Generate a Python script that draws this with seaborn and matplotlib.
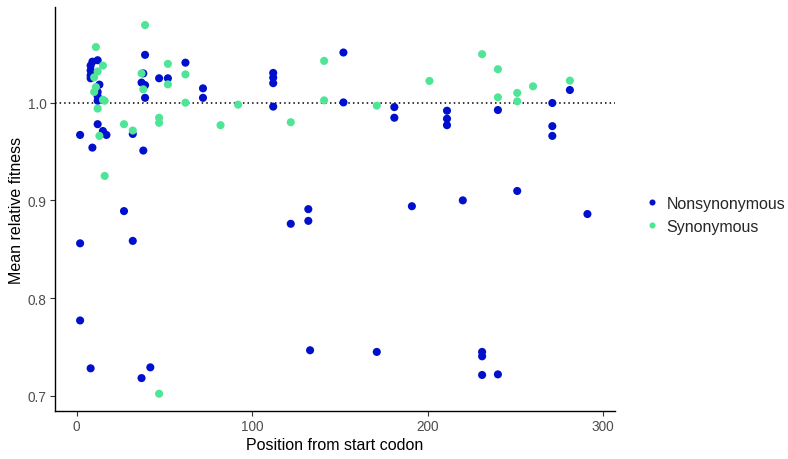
import pandas as pd
import matplotlib
matplotlib.use('Agg')
import matplotlib.pyplot as plt
import seaborn as sns

# values
nonsyn_pos = [39, 12, 9, 8, 8, 8, 8, 13, 12, 12, 12, 12, 15, 17, 2, 9,
              38, 37, 39, 39, 32, 38, 47, 52, 62, 27, 2, 32, 2, 8, 42, 37,
              72, 72, 112, 112, 112, 112, 132, 132, 122, 133, 152, 152,
              181, 181, 211, 211, 211, 191, 220, 171, 240, 271, 271, 271,
              281, 251, 291, 231, 231, 231, 240]
nonsyn_fit = [1.049, 1.0435, 1.042, 1.038, 1.033, 1.028, 1.025, 1.0185,
              1.011, 1.0065, 1.002, 0.978, 0.971, 0.967, 0.967, 0.954,
              1.030, 1.0206, 1.018, 1.005, 0.968, 0.951, 1.025, 1.025,
              1.041, 0.889, 0.856, 0.8585, 0.777, 0.728, 0.729, 0.718,
              1.0147, 1.005, 1.0305, 1.0257, 1.020, 0.996, 0.891, 0.879,
              0.876, 0.7465, 1.0514, 1.0003, 0.9955, 0.9846, 0.9918,
              0.9836, 0.977, 0.894, 0.900, 0.7448, 0.9925, 0.9997, 0.976,
              0.966, 1.013, 0.9096, 0.886, 0.7448, 0.7403, 0.7212, 0.7218]

syn_pos = [39, 11, 15, 12, 10, 11, 10, 15, 16, 12, 13, 16, 37, 38, 27,
           32, 47, 47, 52, 52, 62, 62, 47, 92, 82, 122, 141, 141, 171,
           201, 231, 240, 240, 251, 251, 260, 281]
syn_fit = [1.0795, 1.057, 1.038, 1.032, 1.026, 1.016, 1.011, 1.003, 1.002,
           0.994, 0.966, 0.925, 1.030, 1.0137, 0.978, 0.9715, 0.9846,
           0.9794, 1.0398, 1.0188, 1.029, 1.000, 0.702, 0.998, 0.977,
           0.980, 1.0428, 1.0024, 0.997, 1.0223, 1.0497, 1.0343, 1.0055,
           1.010, 1.0014, 1.0168, 1.0226]

mut_types = ['Nonsynonymous', 'Synonymous']
colors = ['#0010CC', '#4FE597']

df = pd.DataFrame({
    'position': nonsyn_pos + syn_pos,
    'fitness': nonsyn_fit + syn_fit,
    'type': [mut_types[0]] * len(nonsyn_pos) + [mut_types[1]] * len(syn_pos),
})

sns.set_theme(style='ticks')
plt.rcParams['font.family'] = ['Liberation Sans', 'DejaVu Sans']

fig = plt.figure(figsize=(7.88, 4.6), dpi=100)
ax = fig.add_axes([55 / 788, 48 / 460, 560 / 788, 404 / 460])

sns.scatterplot(data=df, x='position', y='fitness', hue='type',
                hue_order=mut_types, palette=colors, s=34, linewidth=0,
                ax=ax, zorder=3)
ax.axhline(1.0, color='black', linestyle=(0, (1, 2)), linewidth=1.1, zorder=2)

ax.set_xlim(-12.3, 306.7)
ax.set_ylim(0.6843, 1.098)
ax.set_xticks([0, 100, 200, 300])
ax.set_yticks([0.7, 0.8, 0.9, 1.0])
ax.set_yticklabels(['0.7', '0.8', '0.9', '1.0'])
ax.tick_params(axis='both', colors='#333333', labelcolor='#4D4D4D',
               labelsize=9.8, length=3.5, width=0.8, pad=2.5)
for side in ['top', 'right']:
    ax.spines[side].set_visible(False)
for side in ['left', 'bottom']:
    ax.spines[side].set_color('black')
    ax.spines[side].set_linewidth(1.0)

ax.set_xlabel('Position from start codon', fontsize=11.5, color='black',
              labelpad=2.5)
ax.set_ylabel('Mean relative fitness', fontsize=11.5, color='black',
              labelpad=2.5)

ax.legend(loc='center left', bbox_to_anchor=(1.026, 0.485), frameon=False,
          fontsize=11.5, handlelength=1.0, handletextpad=0.4,
          markerscale=0.75, labelspacing=0.5, title=None)

fig.savefig('out.png', dpi=100)
